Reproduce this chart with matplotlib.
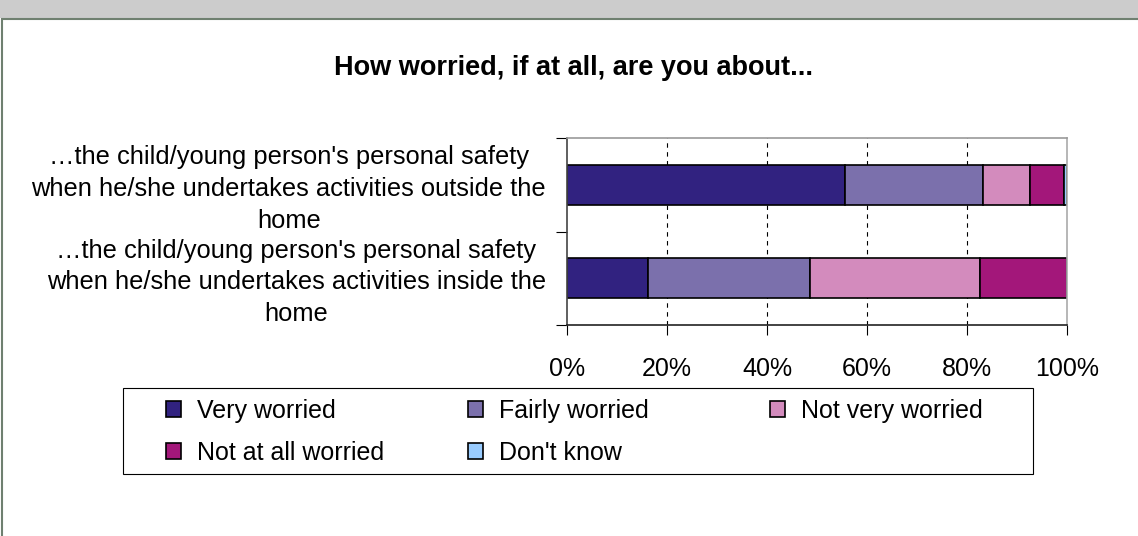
import matplotlib.pyplot as plt
from matplotlib.patches import Rectangle
import numpy as np

plt.rcParams['font.family'] = ['Liberation Sans', 'DejaVu Sans']

questions = [
    "\u2026the child/young person's personal safety\nwhen he/she undertakes activities outside the\nhome",
    "\u2026the child/young person's personal safety\nwhen he/she undertakes activities inside the\nhome",
]
categories = ['Very worried', 'Fairly worried', 'Not very worried', 'Not at all worried', "Don't know"]
outside_home = [55.6, 27.6, 9.4, 6.7, 0.7]
inside_home = [16.1, 32.5, 33.9, 17.5, 0.0]
colors = ['#312280', '#7b70ac', '#d38bbd', '#a3177a', '#99ccff']
ticks = [0, 20, 40, 60, 80, 100]
tick_labels = ['0%', '20%', '40%', '60%', '80%', '100%']

W, H = 1138, 536
fig = plt.figure(figsize=(W / 100, H / 100), dpi=100)

# outer frame: grey strip on top, thin border round the panel
fig.patches.append(Rectangle((0, 1 - 18 / H), 1, 18 / H, transform=fig.transFigure,
                             facecolor='#cccccc', edgecolor='none'))
fig.patches.append(Rectangle((2 / W, -0.01), 1.2, 1 - 19 / H + 0.01, transform=fig.transFigure,
                             facecolor='none', edgecolor='#6f8070', lw=1.5))

ax = fig.add_axes([567 / W, 1 - 325 / H, 500 / W, 187 / H])

data = np.array([outside_home, inside_home])
ypos = [1, 0]
left = np.zeros(len(questions))
for i, cat in enumerate(categories):
    ax.barh(ypos, data[:, i], left=left, height=0.43, color=colors[i],
            edgecolor='black', lw=1.2, label=cat)
    left += data[:, i]

ax.set_xlim(0, 100)
ax.set_ylim(-0.5, 1.5)
for t in ticks[1:-1]:
    ax.axvline(t, color='black', lw=0.8, ls=(0, (4, 4)), zorder=0)
ax.set_xticks(ticks)
ax.set_xticklabels(tick_labels, fontsize=18)
ax.set_yticks([-0.5, 0.5, 1.5])
ax.set_yticklabels([])
ax.tick_params(axis='x', length=7, width=0.8, pad=16, direction='out')
ax.tick_params(axis='y', length=8, width=0.8, direction='out')
ax.spines['top'].set_color('#999999')
ax.spines['bottom'].set_color('#222222')
ax.spines['left'].set_color('#444444')
ax.spines['right'].set_color('#aaaaaa')
for s in ax.spines.values():
    s.set_linewidth(1.2)

# category labels sit a little below the bar centres
for q, y in zip(questions, ypos):
    ax.text(-0.042, y - 0.045, q, transform=ax.get_yaxis_transform(), ha='right', va='center',
            multialignment='center', fontsize=18.4, linespacing=1.4)

fig.text(574 / W, 1 - 68 / H, 'How worried, if at all, are you about...', ha='center',
         va='center', fontsize=19.5, fontweight='bold')

# legend: three fixed-width columns filled row by row, inside one box
handles, labels = ax.get_legend_handles_labels()
col_x = [166, 468, 770]
for c, x in enumerate(col_x):
    idx = list(range(c, len(handles), 3))
    leg = fig.legend([handles[i] for i in idx], [labels[i] for i in idx], loc='upper left',
                     bbox_to_anchor=(x / W, 1 - 399 / H), fontsize=18, frameon=False,
                     handlelength=0.6, handleheight=0.6, handletextpad=0.65,
                     borderpad=0, borderaxespad=0, labelspacing=0.72)
fig.patches.append(Rectangle((123 / W, 1 - 474 / H), 910 / W, 86 / H, transform=fig.transFigure,
                             facecolor='none', edgecolor='black', lw=0.8))

fig.savefig('out.png', dpi=100)
